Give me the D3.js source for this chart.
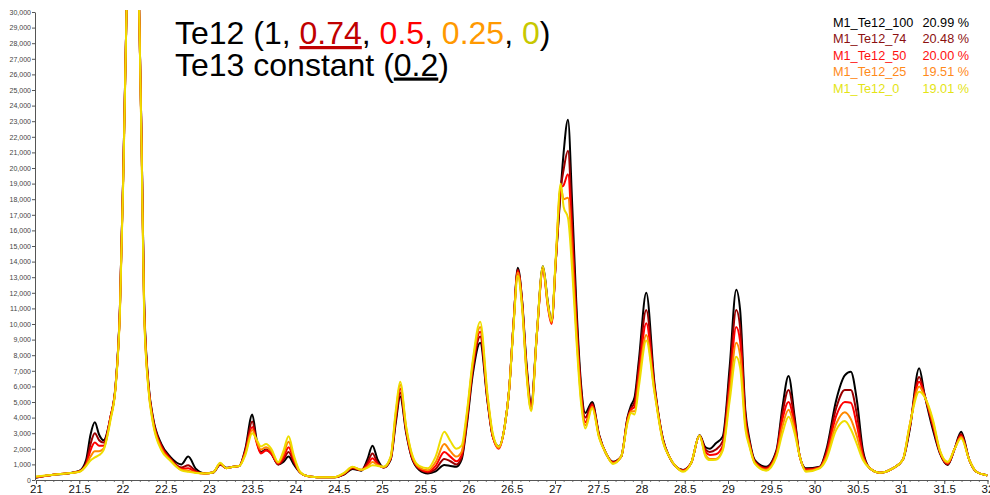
<!DOCTYPE html>
<html>
<head>
<meta charset="utf-8">
<script src="https://cdn.jsdelivr.net/npm/d3@7"></script>
<style>
  body { margin: 0; background: #fff; }
  svg { display: block; font-family: "Liberation Sans", Arial, sans-serif; }
</style>
</head>
<body>
<svg id="chart" width="990" height="495"></svg>
<script>
// 2-theta positions shared by all scans
const twoTheta = [
  21.00, 21.20, 21.40, 21.50, 21.58, 21.63, 21.68, 21.73, 21.78, 21.86,
  21.92, 21.97, 22.01, 22.05, 22.12, 22.19, 22.22, 22.25, 22.30, 22.35,
  22.45, 22.55, 22.68, 22.76, 22.85, 22.95, 23.05, 23.13, 23.20, 23.28,
  23.35, 23.42, 23.50, 23.55, 23.60, 23.66, 23.72, 23.80, 23.86, 23.92,
  23.98, 24.05, 24.12, 24.25, 24.45, 24.56, 24.66, 24.76, 24.83, 24.89,
  24.95, 25.02, 25.10, 25.16, 25.21, 25.28, 25.34, 25.43, 25.53, 25.62,
  25.72, 25.79, 25.86, 25.92, 25.98, 26.05, 26.135, 26.22, 26.28, 26.35,
  26.42, 26.47, 26.52, 26.57, 26.62, 26.67, 26.725, 26.79, 26.86, 26.92,
  26.96, 27.01, 27.065, 27.10, 27.15, 27.20, 27.245, 27.30, 27.35, 27.43,
  27.51, 27.59, 27.67, 27.765, 27.84, 27.88, 27.92, 27.97, 28.055, 28.15,
  28.25, 28.32, 28.40, 28.48, 28.575, 28.67, 28.74, 28.79, 28.86, 28.94,
  29.02, 29.095, 29.14, 29.20, 29.25, 29.31, 29.44, 29.56, 29.63, 29.70,
  29.77, 29.83, 29.90, 30.06, 30.135, 30.25, 30.35, 30.42, 30.49, 30.56,
  30.64, 30.75, 30.905, 31.02, 31.10, 31.21, 31.27, 31.37, 31.45, 31.54,
  31.62, 31.695, 31.79, 31.87, 31.98, 32.00
];

const te12_100 = [
  150, 330, 450, 580, 1300, 2900, 3700, 2900, 2550, 4000,
  6100, 11000, 20000, 31000, 60000, 31000, 22000, 11500, 6200, 4100,
  2300, 1500, 1000, 1500, 700, 430, 480, 1000, 780, 850,
  900, 2000, 4200, 2600, 1800, 1950, 1700, 1000, 1150, 1500,
  1000, 500, 270, 180, 180, 350, 700, 600, 1300, 2200,
  1300, 800, 1300, 3700, 5350, 3000, 1500, 650, 420, 550,
  960, 900, 850, 1300, 3500, 6800, 8800, 5000, 2800, 2150,
  3500, 5800, 10000, 13600, 11500, 7500, 4900, 9400, 13700, 11300,
  10150, 14100, 18500, 21000, 23100, 17500, 11500, 6200, 4300, 5000,
  2900, 1700, 1170, 1500, 4050, 4800, 5300, 7700, 12000, 6200,
  2600, 1500, 850, 640, 1100, 2880, 2100, 2000, 2350, 2800,
  7300, 12200, 10900, 4500, 2560, 1280, 850, 1900, 4700, 6670,
  4060, 1500, 750, 850, 1900, 5100, 6700, 6940, 5100, 1900,
  750, 470, 750, 1280, 3200, 7160, 5550, 3200, 1700, 960,
  2000, 3100, 1280, 530, 320, 300
];

const te12_74 = [
  170, 340, 450, 560, 1100, 2300, 3000, 2550, 2400, 4000,
  6000, 11000, 20000, 31000, 60000, 31000, 22000, 11300, 6100, 4000,
  2200, 1400, 800, 950, 550, 420, 500, 1000, 770, 850,
  900, 1900, 3750, 2500, 1750, 1900, 1700, 1000, 1300, 1800,
  1150, 500, 270, 180, 180, 380, 750, 620, 1100, 1700,
  1100, 800, 1350, 3900, 5600, 3100, 1550, 700, 480, 700,
  1350, 1200, 1000, 1450, 3700, 7100, 9200, 5100, 2800, 2100,
  3500, 5800, 10000, 13500, 11400, 7300, 4800, 9300, 13600, 11200,
  10100, 14100, 18600, 19900, 21100, 16200, 10800, 5900, 4000, 4900,
  2850, 1700, 1150, 1500, 4000, 4600, 5000, 7300, 10900, 6000,
  2550, 1500, 850, 620, 1100, 2850, 1950, 1800, 1950, 2500,
  6700, 10900, 9800, 4200, 2400, 1200, 780, 1800, 4300, 5770,
  3800, 1500, 700, 820, 1750, 4600, 5770, 5770, 4200, 1700,
  750, 470, 750, 1280, 3300, 6600, 5500, 3400, 1750, 1000,
  2000, 2950, 1280, 530, 320, 300
];

const te12_50 = [
  180, 340, 450, 550, 1000, 1900, 2400, 2200, 2200, 4000,
  6000, 10900, 19800, 31000, 60000, 31000, 21800, 11100, 6000, 3900,
  2100, 1350, 720, 750, 500, 420, 500, 1050, 760, 850,
  900, 1800, 3400, 2400, 1700, 1900, 1700, 1050, 1450, 2100,
  1300, 500, 270, 180, 180, 400, 800, 640, 950, 1400,
  1000, 820, 1400, 4100, 5850, 3200, 1600, 750, 540, 900,
  1800, 1500, 1200, 1600, 3900, 7300, 9500, 5200, 2800, 2000,
  3500, 5800, 10000, 13400, 11300, 7100, 4700, 9300, 13500, 11000,
  10000, 14100, 18700, 18900, 19600, 15200, 10200, 5600, 3700, 4800,
  2800, 1700, 1100, 1500, 3900, 4500, 4700, 6800, 10050, 5900,
  2500, 1500, 850, 600, 1100, 2850, 1800, 1600, 1650, 2200,
  6100, 9800, 8900, 3900, 2300, 1150, 720, 1700, 3900, 5000,
  3500, 1500, 650, 800, 1600, 4100, 5000, 4950, 3500, 1550,
  750, 470, 750, 1280, 3400, 6300, 5450, 3550, 1800, 1050,
  2000, 2850, 1280, 530, 320, 300
];

const te12_25 = [
  200, 340, 450, 540, 950, 1500, 1850, 1850, 2000, 3900,
  6000, 10800, 19600, 31000, 60000, 31000, 21600, 10900, 5900, 3800,
  2000, 1300, 660, 600, 470, 420, 500, 1050, 760, 850,
  900, 1700, 3200, 2500, 1950, 2100, 1850, 1100, 1650, 2450,
  1450, 500, 270, 180, 180, 420, 830, 650, 850, 1150,
  950, 830, 1450, 4300, 6100, 3300, 1700, 800, 620, 1150,
  2300, 1850, 1500, 1800, 4100, 7500, 9800, 5300, 2900, 2050,
  3500, 5800, 9900, 13300, 11200, 7000, 4500, 9300, 13500, 11100,
  10100, 14200, 18800, 18000, 18100, 14200, 9700, 5300, 3500, 4700,
  2750, 1700, 1070, 1500, 3800, 4400, 4400, 6400, 9300, 5700,
  2450, 1500, 850, 570, 1100, 2850, 1600, 1350, 1350, 2000,
  5600, 8800, 8000, 3600, 2200, 1100, 660, 1600, 3450, 4500,
  3250, 1500, 580, 780, 1450, 3600, 4350, 3900, 2800, 1400,
  750, 470, 750, 1280, 3500, 6000, 5400, 3700, 1850, 1100,
  2000, 2750, 1280, 530, 320, 300
];

const te12_0 = [
  220, 340, 450, 520, 900, 1250, 1450, 1600, 1900, 3800,
  5900, 10700, 19500, 31000, 60000, 31000, 21500, 10700, 5800, 3700,
  1900, 1250, 620, 520, 450, 420, 500, 1100, 760, 850,
  900, 1600, 3000, 2600, 2150, 2300, 2000, 1150, 1850, 2800,
  1600, 550, 270, 180, 180, 450, 850, 650, 780, 950,
  900, 850, 1500, 4500, 6300, 3400, 1800, 900, 750, 1500,
  3100, 2500, 2000, 2200, 4300, 7700, 10150, 5500, 3000, 2150,
  3500, 5800, 9800, 13100, 11000, 6800, 4400, 9400, 13700, 11200,
  10200, 14400, 19000, 17500, 16800, 13300, 9200, 5000, 3300, 4600,
  2700, 1700, 1030, 1500, 3700, 4300, 4200, 6000, 8950, 5600,
  2400, 1500, 850, 530, 1100, 2850, 1500, 1280, 1300, 1900,
  5100, 7900, 7200, 3300, 2100, 1050, 600, 1500, 3000, 4060,
  3000, 1500, 530, 750, 1300, 3200, 3780, 3250, 2300, 1280,
  750, 470, 750, 1280, 3500, 5660, 5350, 3850, 1900, 1170,
  2000, 2670, 1280, 530, 320, 300
];

const scanNames = ["M1_Te12_100", "M1_Te12_74", "M1_Te12_50", "M1_Te12_25", "M1_Te12_0"];
const scanPercents = ["20.99 %", "20.48 %", "20.00 %", "19.51 %", "19.01 %"];
const scans = [te12_100, te12_74, te12_50, te12_25, te12_0];

const lineColors = ["#000000", "#9a0000", "#ff0000", "#ff8800", "#eedd00"];
const legendColors = ["#000000", "#8b1010", "#ff1010", "#ff8a1a", "#e4e414"];

const xTicks = d3.range(21, 32.001, 0.5);
const yTicks = d3.range(0, 30001, 1000);

const svg = d3.select("#chart");
const width = 990;
const height = 495;
const margin = { left: 36, right: 2.5, top: 12, bottom: 15 };

const x = d3.scaleLinear().domain([21, 32]).range([margin.left, width - margin.right]);
const y = d3.scaleLinear().domain([0, 30000]).range([height - margin.bottom, margin.top]);

svg.append("rect").attr("width", width).attr("height", height).attr("fill", "#fff");

svg.append("clipPath").attr("id", "plot-clip")
  .append("rect")
  .attr("x", margin.left)
  .attr("y", margin.top - 2)
  .attr("width", width - margin.left - margin.right)
  .attr("height", height - margin.top - margin.bottom + 2);

// axes
const yAxis = svg.append("g")
  .attr("transform", `translate(${margin.left - 1},0)`)
  .call(d3.axisLeft(y).tickValues(yTicks).tickFormat(d3.format(",")).tickSize(3).tickPadding(1).tickSizeOuter(0));
yAxis.selectAll("text").attr("font-size", 7).attr("fill", "#444");
yAxis.selectAll("line").attr("stroke", "#555");
yAxis.select(".domain").attr("stroke", "#555");

const xMinor = svg.append("g")
  .attr("transform", `translate(0,${height - margin.bottom})`)
  .call(d3.axisBottom(x).tickValues(d3.range(21, 32.001, 0.1)).tickFormat("").tickSize(2).tickSizeOuter(0));
xMinor.selectAll("line").attr("stroke", "#777");
xMinor.select(".domain").remove();

const xAxis = svg.append("g")
  .attr("transform", `translate(0,${height - margin.bottom})`)
  .call(d3.axisBottom(x).tickValues(xTicks).tickFormat(d3.format("")).tickSize(4).tickPadding(1).tickSizeOuter(0));
xAxis.selectAll("text").attr("font-size", 11.5).attr("fill", "#111");
xAxis.selectAll("line").attr("stroke", "#555");
xAxis.select(".domain").attr("stroke", "#555");

// scans, black first so yellow sits on top
const line = d3.line()
  .x((d, i) => x(twoTheta[i]))
  .y(d => y(d))
  .curve(d3.curveMonotoneX);

svg.append("g")
  .attr("clip-path", "url(#plot-clip)")
  .selectAll("path")
  .data(scans)
  .join("path")
  .attr("d", line)
  .attr("fill", "none")
  .attr("stroke", (d, i) => lineColors[i])
  .attr("stroke-width", 2)
  .attr("stroke-linejoin", "round");

// legend
const legend = svg.append("g").attr("font-size", 12.7);
scanNames.forEach((name, i) => {
  const by = 26.5 + i * 16.5;
  legend.append("text").attr("x", 833).attr("y", by).attr("fill", legendColors[i]).text(name);
  legend.append("text").attr("x", 969).attr("y", by).attr("text-anchor", "end").attr("fill", legendColors[i]).text(scanPercents[i]);
});

// title
const title = svg.append("text").attr("x", 175).attr("y", 44).attr("font-size", 32).attr("fill", "#000");
title.append("tspan").text("Te12 (1, ");
title.append("tspan").attr("fill", "#c00000").style("text-decoration", "underline").text("0.74");
title.append("tspan").text(", ");
title.append("tspan").attr("fill", "#ff0000").text("0.5");
title.append("tspan").text(", ");
title.append("tspan").attr("fill", "#ff9900").text("0.25");
title.append("tspan").text(", ");
title.append("tspan").attr("fill", "#c8c800").text("0");
title.append("tspan").text(")");

const title2 = svg.append("text").attr("x", 175).attr("y", 75.5).attr("font-size", 32).attr("fill", "#000");
title2.append("tspan").text("Te13 constant (");
title2.append("tspan").style("text-decoration", "underline").text("0.2");
title2.append("tspan").text(")");
</script>
</body>
</html>
